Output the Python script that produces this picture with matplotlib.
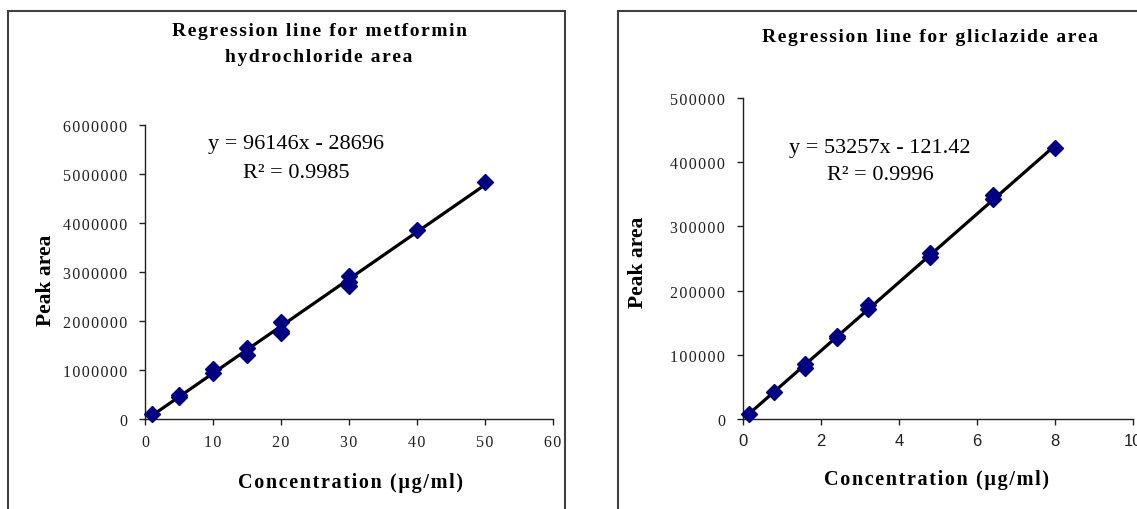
import numpy as np
import matplotlib
matplotlib.use("Agg")
import matplotlib.pyplot as plt
from matplotlib.patches import Rectangle

# metformin hydrochloride (left chart)
met_conc = [1, 5, 5, 10, 10, 15, 15, 20, 20, 20, 30, 30, 30, 40, 50]
met_area = [100000, 500000, 440000, 1020000, 940000, 1450000, 1310000,
            1980000, 1800000, 1750000, 2920000, 2800000, 2710000, 3860000, 4830000]
met_slope, met_icpt = 96146, -28696
met_eq = "y = 96146x - 28696"
met_r2 = "R² = 0.9985"

# gliclazide (right chart)
gli_conc = [0.16, 0.8, 1.6, 1.6, 2.4, 2.4, 3.2, 3.2, 4.8, 4.8, 6.4, 6.4, 8]
gli_area = [8000, 42000, 86000, 79000, 129000, 126000, 178000, 171000,
            258000, 252000, 349000, 342000, 422000]
gli_slope, gli_icpt = 53257, -121.42
gli_eq = "y = 53257x - 121.42"
gli_r2 = "R² = 0.9996"

W, H = 1137, 510
SERIF = "Liberation Serif"
SANS = "Liberation Sans"
plt.rcParams['font.family'] = [SERIF, 'DejaVu Serif']

def spaced(s):
    # excel output is letter spaced, fake it with hair spaces
    return '\u200a'.join(s)

fig = plt.figure(figsize=(W/100, H/100), dpi=100)

def px(x, y):
    return x/W, 1-y/H

# chart area borders
fig.patches.append(Rectangle(px(8, 530), (565-8)/W, (530-12)/H, transform=fig.transFigure,
                             fill=False, edgecolor='#404040', linewidth=1.5))
fig.patches.append(Rectangle(px(618, 530), (1160-618)/W, (530-12)/H, transform=fig.transFigure,
                             fill=False, edgecolor='#404040', linewidth=1.5))

ax1 = fig.add_axes([145/W, 1-420/H, (553-145)/W, (420-126)/H])
ax2 = fig.add_axes([743/W, 1-420/H, (1133-743)/W, (420-99)/H])

def style(ax):
    for s in ['top', 'right']:
        ax.spines[s].set_visible(False)
    for s in ['left', 'bottom']:
        ax.spines[s].set_linewidth(1)
        ax.spines[s].set_color('#202020')
    ax.tick_params(direction='out', length=4, width=1, color='#202020')
    ax.tick_params(axis='y', pad=9, labelsize=11.5, labelcolor='#202020')
    ax.tick_params(axis='x', pad=7, labelsize=11.5, labelcolor='#202020')
    ax.set_facecolor('none')

# left chart
fit_x = np.array([min(met_conc), max(met_conc)])
ax1.plot(fit_x, met_slope*fit_x + met_icpt, color='black', linewidth=2.3, zorder=2)
ax1.plot(met_conc, met_area, linestyle='none', marker='D', markersize=8,
         color='#000080', zorder=3, clip_on=False)
ax1.set_xlim(0, 60)
ax1.set_ylim(0, 6000000)
ax1.set_xticks(range(0, 61, 10))
ax1.set_xticklabels([spaced(str(v)) for v in range(0, 61, 10)])
ax1.set_yticks(range(0, 6000001, 1000000))
ax1.set_yticklabels([spaced(str(v)) for v in range(0, 6000001, 1000000)])
style(ax1)

# right chart
fit_x = np.array([min(gli_conc), max(gli_conc)])
ax2.plot(fit_x, gli_slope*fit_x + gli_icpt, color='black', linewidth=2.3, zorder=2)
ax2.plot(gli_conc, gli_area, linestyle='none', marker='D', markersize=8,
         color='#000080', zorder=3, clip_on=False)
ax2.set_xlim(0, 10)
ax2.set_ylim(0, 500000)
ax2.set_xticks(range(0, 11, 2))
ax2.set_yticks(range(0, 500001, 100000))
ax2.set_yticklabels([spaced(str(v)) for v in range(0, 500001, 100000)])
style(ax2)
for lab in ax2.get_xticklabels():
    lab.set_fontfamily(SANS)
    lab.set_fontsize(12)
ax2.tick_params(axis='x', pad=6)

# titles
fig.text(*px(319, 31), spaced("Regression line for metformin"), ha='center', va='center',
         fontsize=14, fontweight='bold')
fig.text(*px(319, 58), spaced("hydrochloride area"), ha='center', va='center',
         fontsize=14, fontweight='bold')
fig.text(*px(930, 38), spaced("Regression line for gliclazide area"), ha='center', va='center',
         fontsize=14, fontweight='bold')

# equations
fig.text(*px(296, 144), met_eq, ha='center', va='center', fontsize=16)
fig.text(*px(296, 173), met_r2, ha='center', va='center', fontsize=16)
fig.text(*px(880, 148), gli_eq, ha='center', va='center', fontsize=16)
fig.text(*px(880, 176), gli_r2, ha='center', va='center', fontsize=16)

# axis labels
fig.text(*px(46, 280), "Peak area", ha='center', va='center', rotation=90,
         fontsize=15.5, fontweight='bold')
fig.text(*px(638, 262), "Peak area", ha='center', va='center', rotation=90,
         fontsize=15.5, fontweight='bold')
fig.text(*px(351, 483), spaced("Concentration (µg/ml)"), ha='center', va='center',
         fontsize=14.5, fontweight='bold')
fig.text(*px(937, 480), spaced("Concentration (µg/ml)"), ha='center', va='center',
         fontsize=14.5, fontweight='bold')

fig.savefig("out.png", dpi=100)
